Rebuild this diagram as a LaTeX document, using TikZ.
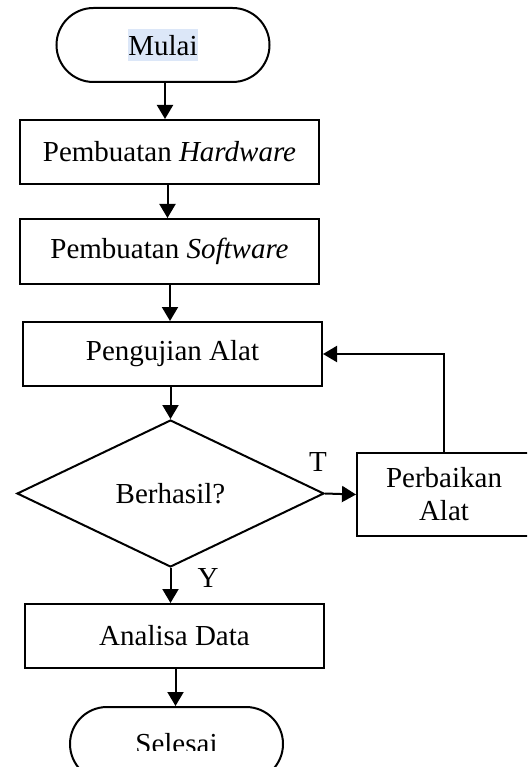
\documentclass[tikz,border=0pt]{standalone}
\usepackage{fontspec}
\setmainfont{Liberation Serif}
\usetikzlibrary{shapes.misc,shapes.geometric,arrows.meta}
\definecolor{hl}{HTML}{DCE7F8}
\begin{document}
\begin{tikzpicture}[x=1pt,y=-1pt,
  every node/.style={font=\fontsize{29}{33}\selectfont},
  base/.style={draw=black,line width=2pt,inner sep=0pt},
  procbox/.style={base,rectangle,minimum width=299pt,minimum height=64pt},
  termbox/.style={base,rounded rectangle,minimum width=213pt,minimum height=74pt},
  decbox/.style={base,diamond,minimum width=307pt,minimum height=147pt},
  arr/.style={line width=2pt,-{Triangle[length=14pt,width=16pt]}},
  lbl/.style={inner sep=0pt}]
\clip (0,0) rectangle (527,767);
\node[termbox] (mulai) at (163,45) {{\fboxsep=0pt\colorbox{hl}{\rule[-5pt]{0pt}{32pt}Mulai}}};
\node[procbox] (hw) at (169.5,152) {Pembuatan \textit{Hardware}};
\node[procbox,minimum height=65pt] (sw) at (169.5,251.5) {Pembuatan \textit{Software}};
\node[procbox] (peng) at (172.5,354) {Pengujian Alat};
\node[decbox] (dia) at (170.5,493.5) {Berhasil?};
\node[base,rectangle,minimum width=174pt,minimum height=83pt,align=center] (perb) at (444,494.5) {Perbaikan\\Alat};
\node[procbox] (ana) at (174.5,636) {Analisa Data};
\node[termbox] (sel) at (176.5,744) {};
\begin{scope}
\clip (0,700) rectangle (527,750);
\node[lbl] (seltext) at (176.5,744) {Selesai};
\end{scope}
\node[lbl] (t) at (318,462) {T};
\node[lbl] (y) at (208,578) {Y};
\draw[arr] ([xshift=2pt]mulai.south) -- ([xshift=2pt]mulai.south |- hw.north);
\draw[arr] ([xshift=-2pt]hw.south) -- ([xshift=-2pt]hw.south |- sw.north);
\draw[arr] ([xshift=0.5pt]sw.south) -- ([xshift=0.5pt]sw.south |- peng.north);
\draw[arr] ([xshift=-2pt]peng.south) -- (dia.north);
\draw[arr] (dia.south) -- (dia.south |- ana.north);
\draw[arr] ([xshift=1pt]ana.south) -- ([xshift=1pt]ana.south |- sel.north);
\draw[arr] (dia.east) -- (perb.west);
\draw[arr] (perb.north) |- (peng.east);
\end{tikzpicture}
\end{document}
